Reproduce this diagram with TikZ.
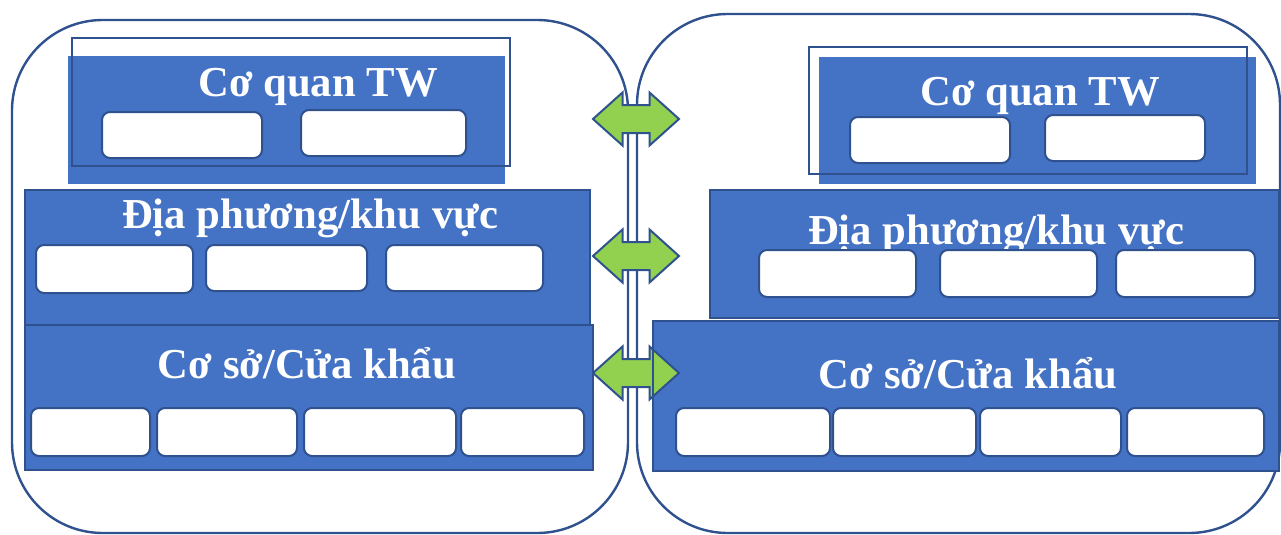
\documentclass[tikz,border=0pt]{standalone}
\usepackage{fontspec}
\setmainfont{Liberation Serif}
\usetikzlibrary{fit}
\definecolor{boxblue}{HTML}{4472C4}
\definecolor{edgeblue}{HTML}{2F528F}
\definecolor{arrowgreen}{HTML}{92D050}

\tikzset{
  pics/dblarrow/.style={code={
    \draw[linkarrow] (-43,0) -- (-13.5,-26.5) -- (-13.5,-14) -- (13.5,-14)
      -- (13.5,-26.5) -- (43,0) -- (13.5,26.5) -- (13.5,14) -- (-13.5,14)
      -- (-13.5,26.5) -- cycle;
  }}
}

\begin{document}
\begin{tikzpicture}[x=0.75pt,y=-0.75pt,
  outerbox/.style={draw=edgeblue, line width=1.8pt, rounded corners=68pt, inner sep=0pt, outer sep=0pt},
  levelbox/.style={fill=boxblue, draw=edgeblue, line width=1.5pt, inner sep=0pt, outer sep=0pt},
  plainfill/.style={fill=boxblue, inner sep=0pt, outer sep=0pt},
  framebox/.style={draw=edgeblue, line width=1.5pt, inner sep=0pt, outer sep=0pt},
  unitbox/.style={fill=white, draw=edgeblue, line width=1.5pt, rounded corners=6pt, inner sep=0pt, outer sep=0pt},
  title/.style={text=white, font=\fontsize{32}{36}\selectfont\bfseries, anchor=base, inner sep=0pt},
  linkarrow/.style={fill=arrowgreen, draw=edgeblue, line width=1.5pt, line join=miter}
]
\useasboundingbox (0,0) rectangle (1281,535);

% two outer panels
\node[outerbox, fit={(12,20) (628,533)}] (Lpanel) {};
\node[outerbox, fit={(637,14) (1280,533)}] (Rpanel) {};

% ---- left panel ----
\node[plainfill, fit={(68,56) (505,184)}] (Ltop) {};
\node[framebox, fit={(72,38) (510,166)}] (Ltopframe) {};
\node[title] (LtopText) at (318,97) {Cơ quan TW};
\node[unitbox, fit={(102,112) (262,158)}] (Lt1) {};
\node[unitbox, fit={(301,110) (466,156)}] (Lt2) {};

\node[levelbox, fit={(25,190) (590,325)}] (Lmid) {};
\node[title] (LmidText) at (310,228) {Địa phương/khu vực};
\node[unitbox, fit={(36,245) (193,293)}] (Lm1) {};
\node[unitbox, fit={(206,245) (367,291)}] (Lm2) {};
\node[unitbox, fit={(386,245) (543,291)}] (Lm3) {};

\node[levelbox, fit={(25,325) (593,470)}] (Lbot) {};
\node[title] (LbotText) at (307,378) {Cơ sở/Cửa khẩu};
\node[unitbox, fit={(31,408) (150,456)}] (Lb1) {};
\node[unitbox, fit={(157,408) (297,456)}] (Lb2) {};
\node[unitbox, fit={(304,408) (456,456)}] (Lb3) {};
\node[unitbox, fit={(461,408) (584,456)}] (Lb4) {};

% ---- right panel ----
\node[plainfill, fit={(819,57) (1256,184)}] (Rtop) {};
\node[framebox, fit={(809,47) (1247,174)}] (Rtopframe) {};
\node[title] (RtopText) at (1040,105) {Cơ quan TW};
\node[unitbox, fit={(850,117) (1010,163)}] (Rt1) {};
\node[unitbox, fit={(1045,115) (1205,161)}] (Rt2) {};

\node[levelbox, fit={(710,190) (1279,318)}] (Rmid) {};
\node[title] (RmidText) at (996,244) {Địa phương/khu vực};
\node[unitbox, fit={(759,250) (916,297)}] (Rm1) {};
\node[unitbox, fit={(940,250) (1097,297)}] (Rm2) {};
\node[unitbox, fit={(1116,250) (1255,297)}] (Rm3) {};

\node[levelbox, fit={(653,321) (1279,471)}] (Rbot) {};
\node[title] (RbotText) at (968,388) {Cơ sở/Cửa khẩu};
\node[unitbox, fit={(676,408) (830,456)}] (Rb1) {};
\node[unitbox, fit={(833,408) (976,456)}] (Rb2) {};
\node[unitbox, fit={(980,408) (1121,456)}] (Rb3) {};
\node[unitbox, fit={(1127,408) (1264,456)}] (Rb4) {};

% ---- links between the levels ----
\coordinate (A1) at (636,119);
\coordinate (A2) at (636,256);
\coordinate (A3) at (636,373);
\pic at (A1) {dblarrow};
\pic at (A2) {dblarrow};
\pic at (A3) {dblarrow};

% edge of the lower right level shows over the bottom link
\draw[edgeblue, line width=1.5pt] (Rbot.north west) -- (Rbot.south west);
\end{tikzpicture}
\end{document}
